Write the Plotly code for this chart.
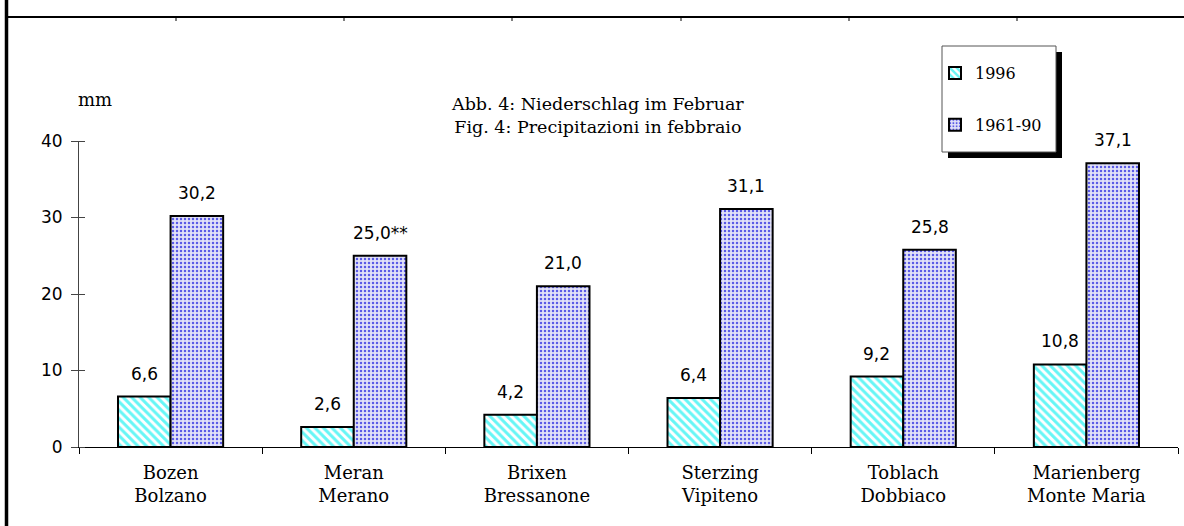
import plotly.graph_objects as go

stations = ["Bozen<br>Bolzano", "Meran<br>Merano", "Brixen<br>Bressanone",
            "Sterzing<br>Vipiteno", "Toblach<br>Dobbiaco", "Marienberg<br>Monte Maria"]
precip_1996 = [6.6, 2.6, 4.2, 6.4, 9.2, 10.8]
precip_1961_90 = [30.2, 25.0, 21.0, 31.1, 25.8, 37.1]
notes_1961_90 = ["", "**", "", "", "", ""]
yticks = [0, 10, 20, 30, 40]

W, H = 1184, 526
L, R, T, B = 79, 6, 141, 79
PW, PH = W - L - R, H - T - B
BARGAP = 0.426
BAR_PX = PW / len(stations) * (1 - BARGAP) / 2


def px(x):
    return (x - L) / PW


def py(y):
    return (H - B - y) / PH


def fmt(v):
    return f"{v:.1f}".replace(".", ",")


SERIF = "DejaVu Serif"
SANS = "DejaVu Sans"

fig = go.Figure()
fig.add_trace(go.Bar(
    x=stations, y=precip_1996, name="1996",
    marker=dict(color="white", line=dict(color="black", width=2),
                pattern=dict(shape="\\", fgcolor="#66f6f6", bgcolor="white",
                             size=6, solidity=0.5, fillmode="replace")),
    legendgroup="a", hoverinfo="skip",
))
fig.add_trace(go.Bar(
    x=stations, y=precip_1961_90, name="1961-90",
    marker=dict(color="white", line=dict(color="black", width=2),
                pattern=dict(shape=".", fgcolor="#5a5ae6", bgcolor="#e2e2f8",
                             size=4, solidity=0.3, fillmode="replace")),
    legendgroup="b", hoverinfo="skip",
))

annotations = []
for s, v in zip(stations, precip_1996):
    annotations.append(dict(x=s, y=v, xref="x", yref="y", text=fmt(v),
                            showarrow=False, yanchor="bottom", xanchor="center",
                            xshift=-BAR_PX / 2, yshift=11,
                            font=dict(family=SANS, size=17, color="black")))
for s, v, n in zip(stations, precip_1961_90, notes_1961_90):
    annotations.append(dict(x=s, y=v, xref="x", yref="y", text=fmt(v) + n,
                            showarrow=False, yanchor="bottom", xanchor="center",
                            xshift=BAR_PX / 2, yshift=11,
                            font=dict(family=SANS, size=17, color="black")))

shapes = []
# decorative frame: thick left border, top rule with small ticks
shapes.append(dict(type="line", xref="paper", yref="paper",
                   x0=px(6.5), x1=px(6.5), y0=py(0), y1=py(H),
                   line=dict(color="black", width=3.5)))
shapes.append(dict(type="line", xref="paper", yref="paper",
                   x0=px(8), x1=px(W), y0=py(17), y1=py(17),
                   line=dict(color="black", width=2)))
for tx in [176, 344, 512, 681, 849, 1017]:
    shapes.append(dict(type="line", xref="paper", yref="paper",
                       x0=px(tx), x1=px(tx), y0=py(17), y1=py(21),
                       line=dict(color="black", width=1)))
# legend box with shadow
shapes.append(dict(type="rect", xref="paper", yref="paper",
                   x0=px(948), x1=px(1062), y0=py(158), y1=py(52),
                   fillcolor="black", line=dict(width=0)))
shapes.append(dict(type="rect", xref="paper", yref="paper",
                   x0=px(942), x1=px(1056), y0=py(152), y1=py(46),
                   fillcolor="white", line=dict(color="#555", width=1)))

annotations += [
    dict(text="mm", xref="paper", yref="paper", x=px(94.5), y=py(99),
         xanchor="center", yanchor="middle",
         showarrow=False, font=dict(family=SERIF, size=18, color="black")),
    dict(text="Abb. 4: Niederschlag im Februar<br>Fig. 4: Precipitazioni in febbraio",
         xref="paper", yref="paper", x=px(597), y=py(115), showarrow=False,
         xanchor="center", yanchor="middle",
         align="center", font=dict(family=SERIF, size=17.5, color="black")),
]

fig.update_layout(
    width=W, height=H,
    margin=dict(l=L, r=R, t=T, b=B, pad=0),
    paper_bgcolor="white", plot_bgcolor="white",
    barmode="group", bargap=BARGAP, bargroupgap=0,
    separators=",.",
    showlegend=True,
    legend=dict(x=px(935), y=py(56), xanchor="left", yanchor="top",
                bgcolor="rgba(0,0,0,0)", borderwidth=0,
                font=dict(family=SERIF, size=16, color="black"),
                tracegroupgap=28, itemwidth=30, traceorder="grouped"),
    shapes=shapes, annotations=annotations,
    xaxis=dict(type="category", showline=True, linecolor="black", linewidth=1,
               ticks="outside", tickson="boundaries", ticklen=6,
               tickcolor="black", showgrid=False, ticklabelstandoff=9,
               tickfont=dict(family=SERIF, size=18, color="black")),
    yaxis=dict(range=[0, 40], tickvals=yticks, showline=True, linecolor="#444",
               linewidth=1, ticks="outside", ticklen=7, tickcolor="#444",
               showgrid=False, zeroline=False, ticklabelstandoff=5,
               tickfont=dict(family=SANS, size=17, color="black"),
               minor=dict(tickvals=yticks, ticks="inside", ticklen=6,
                          tickcolor="#444", showgrid=False)),
)

fig.write_html("out.html", config={"displayModeBar": False},
               post_script="document.body.style.margin='0';")
